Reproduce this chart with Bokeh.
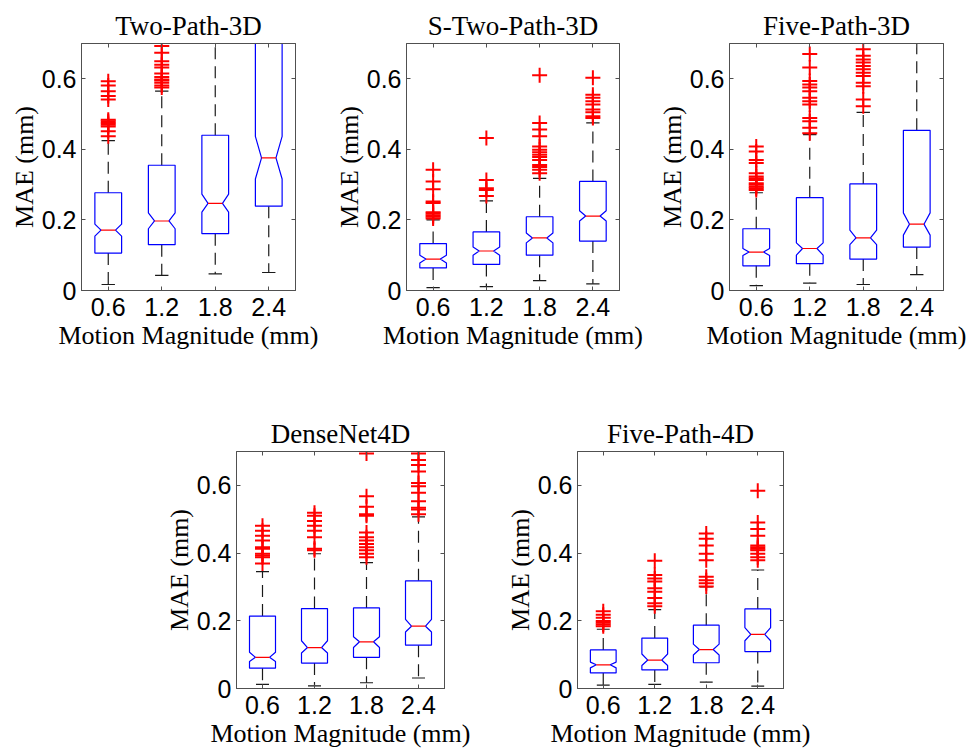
from bokeh.plotting import figure
from bokeh.layouts import column, row
from bokeh.models import Range1d, FixedTicker, LinearAxis
from bokeh.embed import file_html
from bokeh.resources import INLINE

# ---------------- data ----------------
positions = [1, 2, 3, 4]
tick_labels = ["0.6", "1.2", "1.8", "2.4"]
titles = ["Two-Path-3D", "S-Two-Path-3D", "Five-Path-3D", "DenseNet4D", "Five-Path-4D"]

# Two-Path-3D
tp3_q1 = [0.106, 0.130, 0.161, 0.239]
tp3_med = [0.171, 0.197, 0.247, 0.376]
tp3_q3 = [0.277, 0.355, 0.440, 0.760]
tp3_nlo = [0.154, 0.175, 0.222, 0.316]
tp3_nhi = [0.188, 0.220, 0.273, 0.437]
tp3_wlo = [0.017, 0.043, 0.047, 0.051]
tp3_whi = [0.425, 0.565, 0.800, 1.100]
tp3_out = [
    [0.437, 0.451, 0.465, 0.470, 0.475, 0.480, 0.484, 0.541, 0.551, 0.565, 0.581, 0.593],
    [0.575, 0.581, 0.589, 0.595, 0.598, 0.605, 0.615, 0.632, 0.640, 0.650, 0.674, 0.693],
    [],
    [],
]

# S-Two-Path-3D
stp3_q1 = [0.064, 0.074, 0.100, 0.140]
stp3_med = [0.089, 0.112, 0.149, 0.211]
stp3_q3 = [0.133, 0.166, 0.209, 0.309]
stp3_nlo = [0.078, 0.100, 0.135, 0.197]
stp3_nhi = [0.100, 0.123, 0.163, 0.226]
stp3_wlo = [0.008, 0.011, 0.028, 0.019]
stp3_whi = [0.200, 0.254, 0.318, 0.475]
stp3_out = [
    [0.204, 0.209, 0.213, 0.218, 0.222, 0.248, 0.252, 0.287, 0.309, 0.342],
    [0.268, 0.285, 0.290, 0.313, 0.432],
    [0.332, 0.342, 0.350, 0.356, 0.370, 0.378, 0.385, 0.392, 0.399, 0.408, 0.437, 0.456, 0.475, 0.610],
    [0.489, 0.494, 0.505, 0.513, 0.527, 0.536, 0.546, 0.555, 0.603],
]

# Five-Path-3D
fp3_q1 = [0.070, 0.076, 0.089, 0.123]
fp3_med = [0.109, 0.119, 0.149, 0.188]
fp3_q3 = [0.175, 0.263, 0.302, 0.454]
fp3_nlo = [0.099, 0.100, 0.130, 0.157]
fp3_nhi = [0.119, 0.135, 0.171, 0.220]
fp3_wlo = [0.014, 0.021, 0.017, 0.045]
fp3_whi = [0.277, 0.442, 0.505, 0.900]
fp3_out = [
    [0.285, 0.290, 0.294, 0.300, 0.304, 0.313, 0.318, 0.323, 0.332, 0.361, 0.370, 0.394, 0.408],
    [0.446, 0.461, 0.480, 0.489, 0.527, 0.536, 0.546, 0.565, 0.575, 0.584, 0.594, 0.632, 0.670],
    [0.522, 0.541, 0.579, 0.589, 0.608, 0.617, 0.627, 0.636, 0.646, 0.655, 0.665, 0.684],
    [],
]

# DenseNet4D
dn4_q1 = [0.060, 0.075, 0.092, 0.128]
dn4_med = [0.092, 0.121, 0.138, 0.184]
dn4_q3 = [0.214, 0.236, 0.238, 0.318]
dn4_nlo = [0.080, 0.105, 0.121, 0.167]
dn4_nhi = [0.107, 0.141, 0.153, 0.204]
dn4_wlo = [0.012, 0.008, 0.017, 0.031]
dn4_whi = [0.345, 0.398, 0.372, 0.507]
dn4_out = [
    [0.369, 0.388, 0.393, 0.398, 0.413, 0.417, 0.437, 0.451, 0.466, 0.481],
    [0.408, 0.413, 0.447, 0.466, 0.481, 0.495, 0.510, 0.519],
    [0.388, 0.398, 0.408, 0.417, 0.427, 0.437, 0.447, 0.461, 0.510, 0.515, 0.537, 0.568, 0.694],
    [0.515, 0.529, 0.534, 0.553, 0.578, 0.597, 0.607, 0.641, 0.660, 0.675, 0.694],
]

# Five-Path-4D
fp4_q1 = [0.046, 0.055, 0.076, 0.109]
fp4_med = [0.070, 0.084, 0.115, 0.160]
fp4_q3 = [0.114, 0.149, 0.187, 0.235]
fp4_nlo = [0.061, 0.068, 0.099, 0.141]
fp4_nhi = [0.078, 0.102, 0.131, 0.180]
fp4_wlo = [0.010, 0.012, 0.019, 0.007]
fp4_whi = [0.175, 0.233, 0.300, 0.350]
fp4_out = [
    [0.184, 0.189, 0.194, 0.199, 0.209, 0.218, 0.228],
    [0.243, 0.252, 0.267, 0.286, 0.296, 0.316, 0.325, 0.335, 0.377],
    [0.301, 0.311, 0.320, 0.330, 0.379, 0.398, 0.422, 0.442, 0.458],
    [0.379, 0.388, 0.398, 0.408, 0.413, 0.417, 0.422, 0.451, 0.471, 0.490, 0.584],
]

panels = [
    (tp3_q1, tp3_med, tp3_q3, tp3_nlo, tp3_nhi, tp3_wlo, tp3_whi, tp3_out),
    (stp3_q1, stp3_med, stp3_q3, stp3_nlo, stp3_nhi, stp3_wlo, stp3_whi, stp3_out),
    (fp3_q1, fp3_med, fp3_q3, fp3_nlo, fp3_nhi, fp3_wlo, fp3_whi, fp3_out),
    (dn4_q1, dn4_med, dn4_q3, dn4_nlo, dn4_nhi, dn4_wlo, dn4_whi, dn4_out),
    (fp4_q1, fp4_med, fp4_q3, fp4_nlo, fp4_nhi, fp4_wlo, fp4_whi, fp4_out),
]

# ---------------- style ----------------
SERIF = "Liberation Serif"
SANS = "Liberation Sans"
AX_COL = "#505050"
BOX_W = 0.25      # half box width
NOTCH_W = 0.135   # half width at the median
CAP_W = 0.125     # half cap width


def make_panel(idx, frame_w, frame_h, bl, br, bt, bb):
    q1, med, q3, nlo, nhi, wlo, whi, outs = panels[idx]
    p = figure(frame_width=frame_w, frame_height=frame_h,
               min_border_left=bl, min_border_right=br,
               min_border_top=bt, min_border_bottom=bb,
               x_range=Range1d(0.5, 4.5), y_range=Range1d(0, 0.7),
               output_backend="svg", toolbar_location=None,
               background_fill_color="white", border_fill_color="white")
    p.grid.visible = False
    p.outline_line_color = AX_COL
    p.outline_line_width = 1

    p.title.text = titles[idx]
    p.title.text_font = SERIF
    p.title.text_font_size = "27px"
    p.title.text_font_style = "normal"
    p.title.text_color = "black"
    p.title.align = "center"
    p.title.standoff = 6

    xt = FixedTicker(ticks=positions)
    yt = FixedTicker(ticks=[0, 0.2, 0.4, 0.6])

    p.xaxis.ticker = xt
    p.xaxis.major_label_overrides = {pos: lab for pos, lab in zip(positions, tick_labels)}
    p.yaxis.ticker = yt
    p.yaxis.major_label_overrides = {0: "0", 0.2: "0.2", 0.4: "0.4", 0.6: "0.6"}

    for ax in (p.xaxis[0], p.yaxis[0]):
        ax.major_tick_in = 4
        ax.major_tick_out = 0
        ax.minor_tick_in = 0
        ax.minor_tick_out = 0
        ax.axis_line_color = AX_COL
        ax.major_tick_line_color = AX_COL
        ax.major_label_text_font = SANS
        ax.major_label_text_font_size = "25px"
        ax.major_label_text_color = "black"
        ax.axis_label_text_font = SERIF
        ax.axis_label_text_font_size = "26px"
        ax.axis_label_text_font_style = "normal"
        ax.axis_label_text_color = "black"
    p.xaxis.axis_label = "Motion Magnitude (mm)"
    p.yaxis.axis_label = "MAE (mm)"
    p.xaxis.major_label_standoff = 7
    p.xaxis.axis_label_standoff = 2
    p.yaxis.major_label_standoff = 5
    p.yaxis.axis_label_standoff = 0

    # mirrored inward ticks on top and right
    for place, tk in (("right", yt), ("above", xt)):
        ax = LinearAxis(ticker=tk, major_tick_in=4, major_tick_out=0,
                        minor_tick_in=0, minor_tick_out=0,
                        major_label_text_font_size="0px", major_label_standoff=0,
                        axis_line_color=AX_COL, major_tick_line_color=AX_COL)
        ax.major_label_overrides = {t: "" for t in tk.ticks}
        p.add_layout(ax, place)

    # whiskers (dashed)
    p.segment(x0=positions, y0=q3, x1=positions, y1=whi,
              line_color="#1a1a1a", line_width=1.2, line_dash="12 7")
    p.segment(x0=positions, y0=q1, x1=positions, y1=wlo,
              line_color="#1a1a1a", line_width=1.2, line_dash="12 7")
    # caps
    p.segment(x0=[x - CAP_W for x in positions], y0=whi,
              x1=[x + CAP_W for x in positions], y1=whi,
              line_color="#1a1a1a", line_width=1.2)
    p.segment(x0=[x - CAP_W for x in positions], y0=wlo,
              x1=[x + CAP_W for x in positions], y1=wlo,
              line_color="#1a1a1a", line_width=1.2)
    # notched boxes
    xs, ys = [], []
    for x, a, m, b, nl, nh in zip(positions, q1, med, q3, nlo, nhi):
        xs.append([x - BOX_W, x - BOX_W, x - NOTCH_W, x - BOX_W, x - BOX_W,
                   x + BOX_W, x + BOX_W, x + NOTCH_W, x + BOX_W, x + BOX_W])
        ys.append([a, nl, m, nh, b, b, nh, m, nl, a])
    p.patches(xs=xs, ys=ys, fill_color=None, line_color="#0000ff", line_width=1.2)
    # medians
    p.segment(x0=[x - NOTCH_W for x in positions], y0=med,
              x1=[x + NOTCH_W for x in positions], y1=med,
              line_color="#ff0000", line_width=1.2)
    # outliers
    ox, oy = [], []
    for x, vals in zip(positions, outs):
        for v in vals:
            ox.append(x)
            oy.append(v)
    p.scatter(x=ox, y=oy, marker="cross", size=15, line_color="#ff0000",
              line_width=2)
    return p


f1 = make_panel(0, 214, 247, 81, 33, 43, 70)
f2 = make_panel(1, 213, 247, 78, 32, 43, 70)
f3 = make_panel(2, 214, 247, 78, 31, 43, 70)
f4 = make_panel(3, 208, 237, 236, 55, 91, 68)
f5 = make_panel(4, 206, 237, 78, 30, 91, 68)

layout = column(row(f1, f2, f3), row(f4, f5))

open("out.html", "w").write(file_html(layout, INLINE))
